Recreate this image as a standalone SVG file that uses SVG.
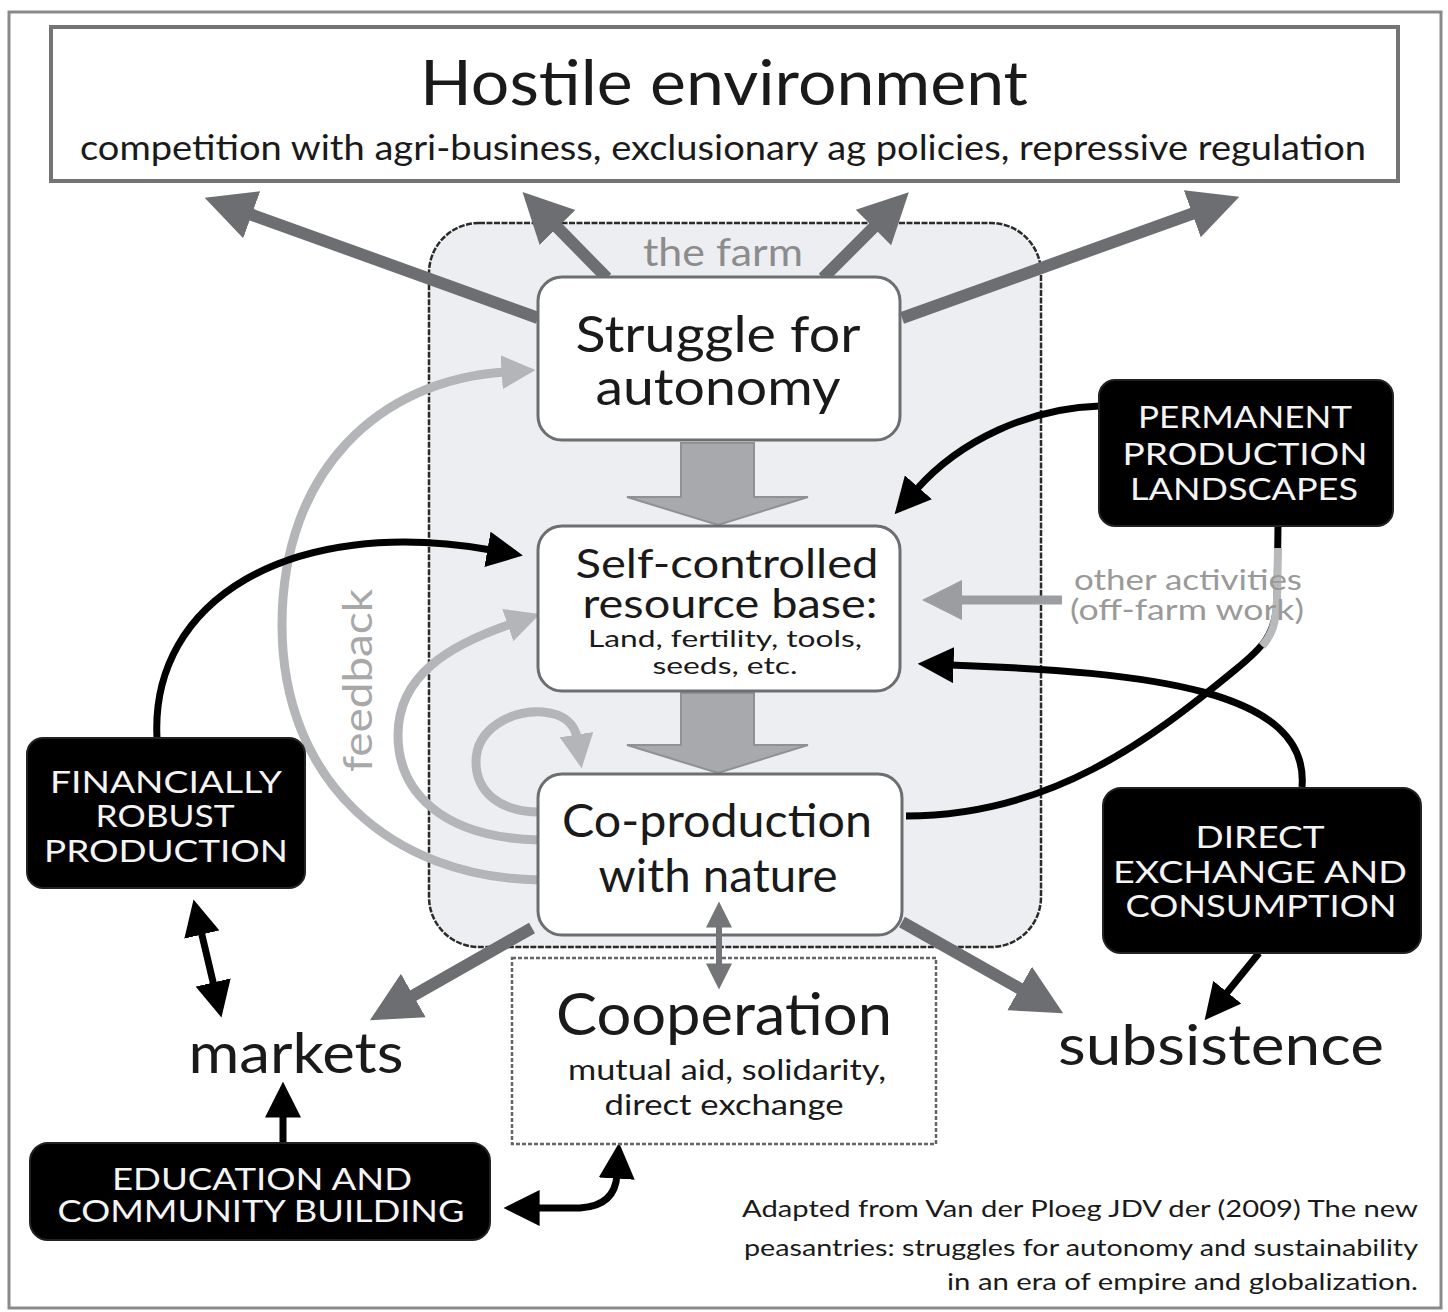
<svg xmlns="http://www.w3.org/2000/svg" width="1448" height="1312" viewBox="0 0 1448 1312">
<style>
  text { font-family: Lato, "Liberation Sans", sans-serif; text-anchor: middle; }
  .dk { fill: #1a1a1a; }
  .wt { fill: #f4f4f4; font-size: 31px; }
  .box { fill: #ffffff; stroke: #6d6e71; stroke-width: 3; }
  .blk { fill: #000000; stroke: #222; stroke-width: 2; }
  .hg { fill: none; stroke: #6d6e71; stroke-width: 12; }
  .bk { fill: none; stroke: #000; stroke-width: 7; }
  .lg { fill: none; stroke: #b4b5b8; stroke-width: 9; }
  .blockarrow { fill: #a7a9ac; stroke: #8f9194; stroke-width: 2; }
</style>
<defs>
  <marker id="mhg" viewBox="0 0 10 10" refX="1" refY="5" markerUnits="userSpaceOnUse" markerWidth="50" markerHeight="54" orient="auto">
    <path d="M0,0 L10,5 L0,10 z" fill="#6d6e71"/>
  </marker>
  <marker id="mbk" viewBox="0 0 10 10" refX="1" refY="5" markerUnits="userSpaceOnUse" markerWidth="36" markerHeight="36" orient="auto-start-reverse">
    <path d="M0,0 L10,5 L0,10 z" fill="#000"/>
  </marker>
  <marker id="mlg" viewBox="0 0 10 10" refX="1" refY="5" markerUnits="userSpaceOnUse" markerWidth="34" markerHeight="34" orient="auto">
    <path d="M0,0 L10,5 L0,10 z" fill="#b4b5b8"/>
  </marker>
  <marker id="mgm" viewBox="0 0 10 10" refX="1" refY="5" markerUnits="userSpaceOnUse" markerWidth="42" markerHeight="40" orient="auto">
    <path d="M0,0 L10,5 L0,10 z" fill="#9c9da0"/>
  </marker>
  <marker id="mgd" viewBox="0 0 10 10" refX="1" refY="5" markerUnits="userSpaceOnUse" markerWidth="28" markerHeight="26" orient="auto-start-reverse">
    <path d="M0,0 L10,5 L0,10 z" fill="#747578"/>
  </marker>
</defs>

<rect x="9" y="12" width="1432" height="1296" fill="#ffffff" stroke="#8a8a8a" stroke-width="3"/>

<g id="hostile">
  <rect x="51" y="27" width="1347" height="154" fill="#fff" stroke="#747474" stroke-width="4"/>
  <text class="dk" x="724" y="105" font-size="62" textLength="608" lengthAdjust="spacingAndGlyphs">Hostile environment</text>
  <text class="dk" x="723" y="160" font-size="34" textLength="1286" lengthAdjust="spacingAndGlyphs">competition with agri-business, exclusionary ag policies, repressive regulation</text>
</g>

<g id="farm">
  <rect x="429" y="223" width="612" height="724" rx="50" fill="#eceef1" stroke="#2a2a2a" stroke-width="2.5" stroke-dasharray="6 1.5"/>
  <text x="723" y="266" font-size="38" fill="#8c8c8c" textLength="160" lengthAdjust="spacingAndGlyphs">the farm</text>
</g>

<g id="feedback">
  <path class="lg" d="M540,880 C390,878 282,780 282,625 C282,470 380,380 505,372" marker-end="url(#mlg)"/>
  <path class="lg" d="M540,840 C440,838 398,790 398,735 C398,675 450,645 511,624" marker-end="url(#mlg)"/>
  <path class="lg" d="M540,812 C500,812 476,792 476,762 C476,728 512,710 543,712 C565,714 575,725 577,738" marker-end="url(#mlg)"/>
  <text transform="translate(372,772) rotate(-90)" style="text-anchor:start" font-size="40" fill="#a8a8a8" textLength="183" lengthAdjust="spacingAndGlyphs">feedback</text>
</g>

<g id="connectors">
  <path class="hg" d="M538,318 L247,213" marker-end="url(#mhg)"/>
  <path class="hg" d="M607,278 L554,224" marker-end="url(#mhg)"/>
  <path class="hg" d="M823,278 L877,224" marker-end="url(#mhg)"/>
  <path class="hg" d="M902,318 L1197,212" marker-end="url(#mhg)"/>
  <path class="hg" d="M532,928 L409,998" marker-end="url(#mhg)"/>
  <path class="hg" d="M902,922 L1024,991" marker-end="url(#mhg)"/>
  <polygon class="blockarrow" points="681,443 754,443 754,497 808,497 718,525 627,497 681,497"/>
  <polygon class="blockarrow" points="681,693 754,693 754,745 808,745 718,773 627,745 681,745"/>
  <path d="M1062,600 L958,600" fill="none" stroke="#9c9da0" stroke-width="9" marker-end="url(#mgm)"/>
  <path class="bk" d="M157,738 C150,600 290,515 491,550" marker-end="url(#mbk)"/>
  <path class="bk" d="M1100,406 C1030,408 960,440 916,490" marker-end="url(#mbk)"/>
  <path class="bk" d="M1302,787 C1310,690 1150,672 950,665" marker-end="url(#mbk)"/>
  <path class="bk" d="M1278,527 L1277,600 C1276,635 1262,648 1235,670 C1150,740 1050,816 906,816"/>
  <path d="M1278,548 L1277,600 C1276,625 1271,636 1262,646" fill="none" stroke="#b8b9bb" stroke-width="8"/>
  <path class="bk" d="M1259,953 L1225,995" marker-end="url(#mbk)"/>
  <path class="bk" d="M283,1143 L283,1114" marker-end="url(#mbk)"/>
  <path class="bk" stroke-width="6" d="M201,931 L214,986" marker-start="url(#mbk)" marker-end="url(#mbk)"/>
  <path class="bk" d="M536,1208 L580,1208 Q615,1206 617,1175" marker-start="url(#mbk)" marker-end="url(#mbk)"/>
</g>

<g id="struggle">
  <rect class="box" x="538" y="277" width="362" height="163" rx="24"/>
  <text class="dk" x="718" y="352" font-size="50" textLength="285" lengthAdjust="spacingAndGlyphs">Struggle for</text>
  <text class="dk" x="718" y="405" font-size="50" textLength="245" lengthAdjust="spacingAndGlyphs">autonomy</text>
</g>

<g id="resource">
  <rect class="box" x="538" y="526" width="362" height="165" rx="24"/>
  <text class="dk" x="727" y="578" font-size="40" textLength="303" lengthAdjust="spacingAndGlyphs">Self-controlled</text>
  <text class="dk" x="730" y="618" font-size="40" textLength="295" lengthAdjust="spacingAndGlyphs">resource base:</text>
  <text class="dk" x="725" y="647" font-size="24" textLength="274" lengthAdjust="spacingAndGlyphs">Land, fertility, tools,</text>
  <text class="dk" x="725" y="674" font-size="24" textLength="145" lengthAdjust="spacingAndGlyphs">seeds, etc.</text>
</g>

<g id="coproduction">
  <rect class="box" x="538" y="774" width="364" height="161" rx="24"/>
  <text class="dk" x="717" y="837" font-size="46" textLength="310" lengthAdjust="spacingAndGlyphs">Co-production</text>
  <text class="dk" x="718" y="892" font-size="46" textLength="239" lengthAdjust="spacingAndGlyphs">with nature</text>
</g>

<g id="cooperation">
  <rect x="512" y="958" width="424" height="186" fill="#fff" stroke="#666" stroke-width="2.5" stroke-dasharray="4 2"/>
  <text class="dk" x="724" y="1035" font-size="58" textLength="336" lengthAdjust="spacingAndGlyphs">Cooperation</text>
  <text class="dk" x="727" y="1080" font-size="28" textLength="318" lengthAdjust="spacingAndGlyphs">mutual aid, solidarity,</text>
  <text class="dk" x="724" y="1115" font-size="28" textLength="239" lengthAdjust="spacingAndGlyphs">direct exchange</text>
</g>

<g id="coop-link">
  <path d="M719,925 L719,966" fill="none" stroke="#747578" stroke-width="6" marker-start="url(#mgd)" marker-end="url(#mgd)"/>
</g>

<g id="markets">
  <text class="dk" x="296" y="1073" font-size="56" textLength="215" lengthAdjust="spacingAndGlyphs">markets</text>
</g>

<g id="subsistence">
  <text class="dk" x="1221" y="1065" font-size="56" textLength="326" lengthAdjust="spacingAndGlyphs">subsistence</text>
</g>

<g id="other-activities">
  <text x="1188" y="590" font-size="28" fill="#9a9a9a" textLength="228" lengthAdjust="spacingAndGlyphs">other activities</text>
  <text x="1187" y="620" font-size="28" fill="#9a9a9a" textLength="234" lengthAdjust="spacingAndGlyphs">(off-farm work)</text>
</g>

<g id="financially">
  <rect class="blk" x="27" y="738" width="278" height="150" rx="16"/>
  <text class="wt" x="166" y="793" textLength="232" lengthAdjust="spacingAndGlyphs">FINANCIALLY</text>
  <text class="wt" x="165" y="827" textLength="139" lengthAdjust="spacingAndGlyphs">ROBUST</text>
  <text class="wt" x="166" y="862" textLength="244" lengthAdjust="spacingAndGlyphs">PRODUCTION</text>
</g>

<g id="permanent">
  <rect class="blk" x="1099" y="380" width="294" height="146" rx="16"/>
  <text class="wt" x="1245" y="428" textLength="214" lengthAdjust="spacingAndGlyphs">PERMANENT</text>
  <text class="wt" x="1245" y="465" textLength="245" lengthAdjust="spacingAndGlyphs">PRODUCTION</text>
  <text class="wt" x="1244" y="500" textLength="228" lengthAdjust="spacingAndGlyphs">LANDSCAPES</text>
</g>

<g id="direct">
  <rect class="blk" x="1103" y="788" width="318" height="165" rx="18"/>
  <text class="wt" x="1260" y="848" textLength="129" lengthAdjust="spacingAndGlyphs">DIRECT</text>
  <text class="wt" x="1260" y="883" textLength="294" lengthAdjust="spacingAndGlyphs">EXCHANGE AND</text>
  <text class="wt" x="1261" y="917" textLength="271" lengthAdjust="spacingAndGlyphs">CONSUMPTION</text>
</g>

<g id="education">
  <rect class="blk" x="30" y="1143" width="460" height="97" rx="18"/>
  <text class="wt" x="262" y="1190" textLength="300" lengthAdjust="spacingAndGlyphs">EDUCATION AND</text>
  <text class="wt" x="261" y="1222" textLength="407" lengthAdjust="spacingAndGlyphs">COMMUNITY BUILDING</text>
</g>

<g id="citation">
  <text class="dk" x="1418" y="1217" font-size="24" style="text-anchor:end" textLength="676" lengthAdjust="spacingAndGlyphs">Adapted from Van der Ploeg JDV der (2009) The new</text>
  <text class="dk" x="1418" y="1256" font-size="24" style="text-anchor:end" textLength="674" lengthAdjust="spacingAndGlyphs">peasantries: struggles for autonomy and sustainability</text>
  <text class="dk" x="1418" y="1290" font-size="24" style="text-anchor:end" textLength="471" lengthAdjust="spacingAndGlyphs">in an era of empire and globalization.</text>
</g>
</svg>
